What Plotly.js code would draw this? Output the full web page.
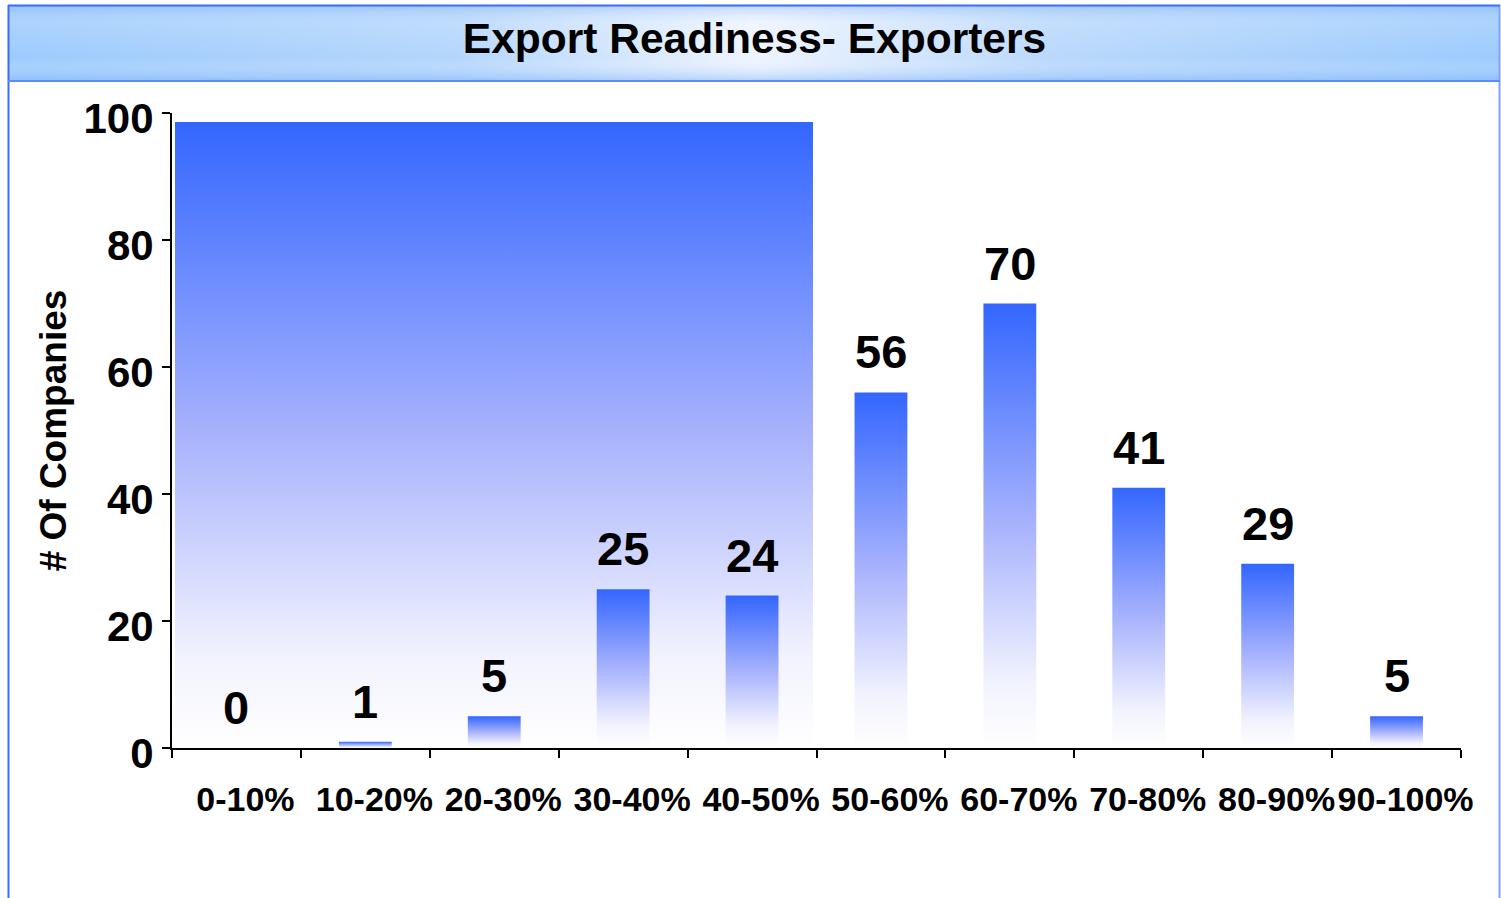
<!DOCTYPE html>
<html>
<head>
<meta charset="utf-8">
<script src="https://cdn.plot.ly/plotly-3.0.1.min.js"></script>
<style>
  html, body { margin: 0; padding: 0; background: #ffffff; }
  #chart { width: 1501px; height: 898px; }
</style>
</head>
<body>
<div id="chart"></div>
<script>
// ---- data ----
const categories = ['0-10%', '10-20%', '20-30%', '30-40%', '40-50%', '50-60%', '60-70%', '70-80%', '80-90%', '90-100%'];
const companies = [0, 1, 5, 25, 24, 56, 70, 41, 29, 5];
const yTicks = [0, 20, 40, 60, 80, 100];
const chartTitle = 'Export Readiness- Exporters';
const yTitle = '# Of Companies';

// ---- styling helpers ----
const FONT = 'Liberation Sans, Arial, Helvetica, sans-serif';
const BLUE = '#3366ff';

function svgUri(svg) { return 'data:image/svg+xml;charset=utf-8,' + encodeURIComponent(svg); }

const bgRectSvg = svgUri(
  '<svg xmlns="http://www.w3.org/2000/svg" width="100" height="100" viewBox="0 0 100 100" preserveAspectRatio="none">' +
  '<defs><linearGradient id="g" x1="0" y1="0" x2="0" y2="1">' +
  '<stop offset="0" stop-color="#3366ff"/><stop offset="0.5" stop-color="#a8b3fd"/>' +
  '<stop offset="0.85" stop-color="#f1f2fe"/><stop offset="1" stop-color="#ffffff"/></linearGradient></defs>' +
  '<rect x="0" y="0" width="100" height="100" fill="url(#g)"/></svg>');

const titleBarSvg = svgUri(
  '<svg xmlns="http://www.w3.org/2000/svg" width="100" height="100" viewBox="0 0 100 100" preserveAspectRatio="none">' +
  '<defs><linearGradient id="h" x1="0" y1="0" x2="1" y2="0">' +
  '<stop offset="0" stop-color="#9ccbfd"/><stop offset="0.3" stop-color="#b4d6fc"/>' +
  '<stop offset="0.5" stop-color="#eef4fe"/><stop offset="0.7" stop-color="#b9d8fc"/>' +
  '<stop offset="1" stop-color="#9ccbfd"/></linearGradient>' +
  '<linearGradient id="v" x1="0" y1="0" x2="0" y2="1">' +
  '<stop offset="0" stop-color="#7fb0f8" stop-opacity="0.45"/><stop offset="0.25" stop-color="#ffffff" stop-opacity="0.15"/>' +
  '<stop offset="0.7" stop-color="#ffffff" stop-opacity="0"/><stop offset="1" stop-color="#7fb0f8" stop-opacity="0.5"/></linearGradient></defs>' +
  '<rect x="0" y="0" width="100" height="100" fill="url(#h)"/>' +
  '<rect x="0" y="0" width="100" height="100" fill="url(#v)"/></svg>');

// plot area in pixels: x 172..1461, y 113..748
const W = 1501, H = 898, ML = 172, MR = 40, MT = 113, MB = 150;
const PW = W - ML - MR, PH = H - MT - MB;
const px = x => (x - ML) / PW;
const py = y => 1 - (y - MT) / PH;

const trace = {
  type: 'bar',
  x: categories,
  y: companies,
  width: 0.41,
  marker: { color: BLUE, line: { width: 0 } },
  hoverinfo: 'x+y',
  cliponaxis: false
};

const annotations = categories.map((c, i) => ({
  x: c, y: companies[i], xref: 'x', yref: 'y',
  text: String(companies[i]),
  showarrow: false, yanchor: 'bottom', yshift: 12,
  font: { family: FONT, size: 47, color: '#000000', weight: 'bold' }
}));

const layout = {
  width: W, height: H,
  margin: { l: ML, r: MR, t: MT, b: MB },
  paper_bgcolor: '#ffffff',
  plot_bgcolor: 'rgba(0,0,0,0)',
  showlegend: false,
  font: { family: FONT, color: '#000000' },
  title: {
    text: chartTitle,
    xref: 'container', yref: 'container',
    x: 754.5 / W, y: 1 - 38 / H, xanchor: 'center', yanchor: 'middle',
    font: { family: FONT, size: 42.5, color: '#000000', weight: 'bold' }
  },
  xaxis: {
    type: 'category',
    range: [-0.5, 9.5],
    tickson: 'boundaries',
    ticks: 'outside', ticklen: 8, tickwidth: 2, tickcolor: '#000000',
    showline: true, linecolor: '#000000', linewidth: 2,
    showgrid: false, zeroline: false,
    tickangle: 0,
    ticklabelshift: 9,
    ticklabelstandoff: 20,
    tickfont: { family: FONT, size: 34, color: '#000000', weight: 'bold' },
    fixedrange: true
  },
  yaxis: {
    range: [0, 100],
    tickvals: yTicks,
    ticktext: yTicks.map(String),
    ticks: 'outside', ticklen: 8, tickwidth: 2, tickcolor: '#000000',
    showline: true, linecolor: '#000000', linewidth: 2,
    showgrid: false, zeroline: false,
    ticklabelshift: 5,
    tickfont: { family: FONT, size: 42, color: '#000000', weight: 'bold' },
    title: {
      text: yTitle,
      standoff: 6,
      font: { family: FONT, size: 37, color: '#000000', weight: 'bold' }
    },
    fixedrange: true
  },
  annotations: annotations,
  images: [
    {
      source: bgRectSvg, xref: 'x', yref: 'y',
      x: -0.477, y: 98.6, sizex: 4.95, sizey: 98.6,
      xanchor: 'left', yanchor: 'top', sizing: 'stretch', layer: 'below'
    },
    {
      source: titleBarSvg, xref: 'paper', yref: 'paper',
      x: px(8), y: py(5), sizex: px(1500) - px(8), sizey: py(5) - py(81),
      xanchor: 'left', yanchor: 'top', sizing: 'stretch', layer: 'below'
    }
  ],
  shapes: [
    { type: 'line', xref: 'paper', yref: 'paper', x0: px(8.5), x1: px(8.5), y0: py(5), y1: py(905), line: { color: '#3a6cff', width: 2 } },
    { type: 'line', xref: 'paper', yref: 'paper', x0: px(1499.5), x1: px(1499.5), y0: py(5), y1: py(905), line: { color: '#7fa2ff', width: 2 } },
    { type: 'line', xref: 'paper', yref: 'paper', x0: px(8), x1: px(1500), y0: py(5.5), y1: py(5.5), line: { color: '#3a6cff', width: 2 } },
    { type: 'line', xref: 'paper', yref: 'paper', x0: px(8), x1: px(1500), y0: py(81), y1: py(81), line: { color: '#5a8cff', width: 2 } }
  ]
};

function applyGradients(gd) {
  const svg = gd.querySelector('.main-svg');
  if (!svg) return;
  const NS = 'http://www.w3.org/2000/svg';
  let defs = svg.querySelector('defs');
  if (!defs) { defs = document.createElementNS(NS, 'defs'); svg.insertBefore(defs, svg.firstChild); }
  if (!svg.querySelector('#barGradFx')) {
    const lg = document.createElementNS(NS, 'linearGradient');
    lg.setAttribute('id', 'barGradFx');
    lg.setAttribute('x1', '0'); lg.setAttribute('y1', '0');
    lg.setAttribute('x2', '0'); lg.setAttribute('y2', '1');
    [['0', '#3366ff'], ['0.5', '#a8b3fd'], ['0.85', '#f1f2fe'], ['1', '#ffffff']].forEach(([o, c]) => {
      const s = document.createElementNS(NS, 'stop');
      s.setAttribute('offset', o); s.setAttribute('stop-color', c);
      lg.appendChild(s);
    });
    defs.appendChild(lg);
  }
  gd.querySelectorAll('.barlayer .point path').forEach(p => {
    p.style.fill = 'url(#barGradFx)';
  });
}

const gd = document.getElementById('chart');
Plotly.newPlot(gd, [trace], layout, { displayModeBar: false, responsive: false }).then(() => {
  applyGradients(gd);
  gd.on('plotly_afterplot', () => applyGradients(gd));
});
</script>
</body>
</html>
